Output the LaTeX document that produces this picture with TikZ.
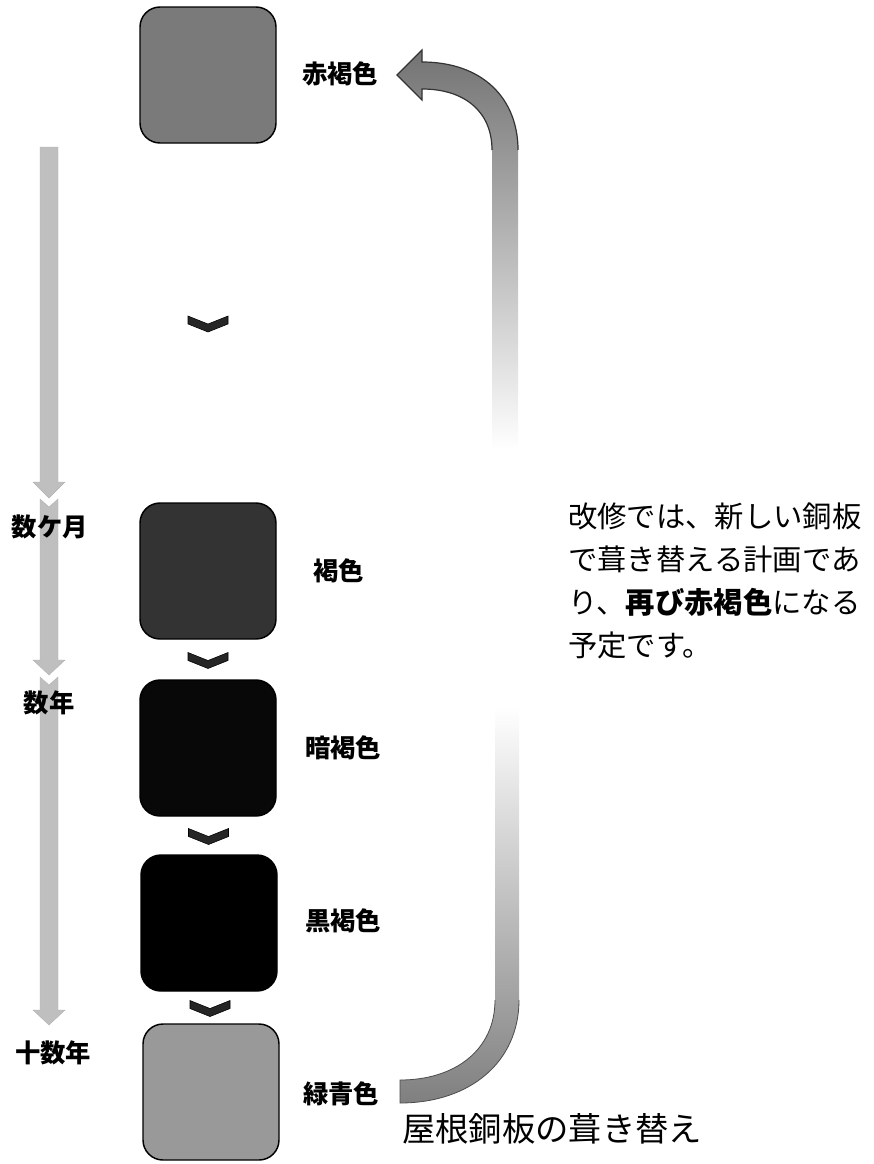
\documentclass[tikz,border=0pt]{standalone}
\usepackage{fontspec}
\newfontfamily\jp{Noto Sans CJK JP}
\usetikzlibrary{calc}
\begin{document}
\begin{tikzpicture}[x=0.75pt,y=-0.75pt,
  colbox/.style={draw=black, line width=1.1pt, rounded corners=15pt, minimum width=102pt, minimum height=102pt, inner sep=0pt},
  lab/.style={anchor=west, inner sep=0pt, font=\jp\bfseries\fontsize{19pt}{22pt}\selectfont},
  tlab/.style={anchor=center, inner sep=0pt, font=\jp\bfseries\fontsize{19pt}{22pt}\selectfont},
  chev/.style={fill=black!85, draw=black, line width=0.4pt},
  timearrow/.style={fill=black!25, draw=black!30, line width=0.3pt}
]
\useasboundingbox (0,0) rectangle (874,1164);

% colour boxes
\node[colbox, fill=black!52] (b1) at (208,75) {};
\node[colbox, fill=black!80] (b2) at (208,571) {};
\node[colbox, fill=black!97] (b3) at (208,748) {};
\node[colbox, fill=black] (b4) at (209,923) {};
\node[colbox, fill=black!40] (b5) at (211,1092) {};

% labels
\node[lab] (l1) at (302,74) {赤褐色};
\node[lab] (l2) at (313,571) {褐色};
\node[lab] (l3) at (305,748) {暗褐色};
\node[lab] (l4) at (305,921) {黒褐色};
\node[lab] (l5) at (303,1094) {緑青色};

% chevrons between boxes
\foreach \a/\b in {b1/b2, b2/b3, b3/b4, b4/b5}{
  \path[chev] ($(\a.south)!0.5!(\b.north)$) ++(-20,-7) -- ++(20,8) -- ++(20,-8) -- ++(0,8) -- ++(-20,8) -- ++(-20,-8) -- cycle;
}

% time arrow (three segments)
\path[timearrow] (40,147) -- (58,147) -- (58,482) -- (65,482) -- (49,498) -- (33,482) -- (40,482) -- cycle;
\path[timearrow] (40,499) -- (49,507) -- (58,499) -- (58,660) -- (65,660) -- (49,675) -- (33,660) -- (40,660) -- cycle;
\path[timearrow] (40,677) -- (49,685) -- (58,677) -- (58,1010) -- (65,1010) -- (49,1025) -- (33,1010) -- (40,1010) -- cycle;
\node[tlab] (m1) at (50,527) {数ケ月};
\node[tlab] (m2) at (49,703) {数年};
\node[tlab] (m3) at (53,1053) {十数年};

% upper return arrow
\shade[top color=black!55, middle color=black!40, bottom color=white, draw=none]
  (397,75) -- (422,50) -- (422,62) .. controls (482,62) and (518,98) .. (518,150)
  -- (518,450) -- (492,450) -- (492,150) .. controls (492,112) and (465,89) .. (422,89)
  -- (422,100) -- cycle;
\draw[black!80, line width=0.9pt] (492,150) .. controls (492,112) and (465,89) .. (422,89) -- (422,100) -- (397,75) -- (422,50) -- (422,62) .. controls (482,62) and (518,98) .. (518,150);

% lower arrow
\shade[top color=white, middle color=black!30, bottom color=black!50, draw=none]
  (400,1080) .. controls (455,1080) and (495,1050) .. (495,1000) -- (495,707) -- (519,707) -- (519,1000)
  .. controls (519,1062) and (470,1103) .. (400,1103) -- cycle;
\draw[black!70, line width=0.6pt] (495,1000) .. controls (495,1050) and (455,1080) .. (400,1080) -- (400,1103) .. controls (470,1103) and (519,1062) .. (519,1000);

% texts
\node[anchor=west, inner sep=0pt, font=\jp\fontsize{25pt}{30pt}\selectfont] (t1) at (402,1129) {屋根銅板の葺き替え};
\node[anchor=north west, inner sep=0pt, align=left, font=\jp\fontsize{22pt}{32.25pt}\selectfont] (para) at (568,503)
  {改修では、新しい銅板\\で葺き替える計画であ\\り、{\bfseries 再び赤褐色}になる\\予定です。};
\end{tikzpicture}
\end{document}
